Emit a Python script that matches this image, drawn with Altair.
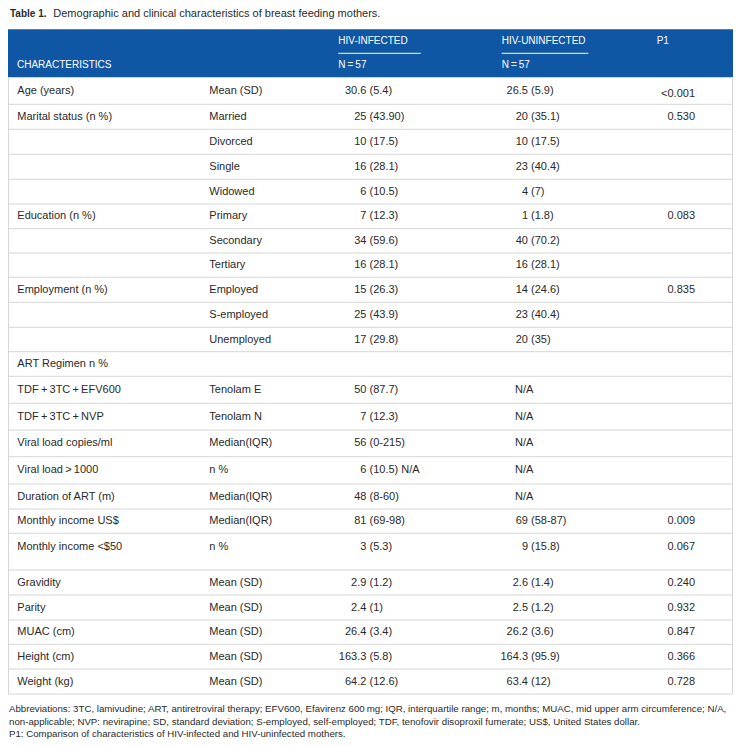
import altair as alt
import pandas as pd
import numpy as np

# ---------------- data ----------------
characteristics = ["Age (years)", "Marital status (n %)", "", "", "", "Education (n %)", "", "",
                   "Employment (n %)", "", "", "ART Regimen n %", "TDF\u2009+\u20093TC\u2009+\u2009EFV600",
                   "TDF\u2009+\u20093TC\u2009+\u2009NVP", "Viral load copies/ml", "Viral load\u2009>\u20091000",
                   "Duration of ART (m)", "Monthly income US$", "Monthly income <$50", "Gravidity", "Parity",
                   "MUAC (cm)", "Height (cm)", "Weight (kg)"]
measures = ["Mean (SD)", "Married", "Divorced", "Single", "Widowed", "Primary", "Secondary", "Tertiary",
            "Employed", "S-employed", "Unemployed", "", "Tenolam E", "Tenolam N", "Median(IQR)", "n %",
            "Median(IQR)", "Median(IQR)", "n %", "Mean (SD)", "Mean (SD)", "Mean (SD)", "Mean (SD)", "Mean (SD)"]
infected_value = ["30.6", "25", "10", "16", "6", "7", "34", "16", "15", "25", "17", "", "50", "7", "56", "6",
                  "48", "81", "3", "2.9", "2.4", "26.4", "163.3", "64.2"]
infected_paren = ["(5.4)", "(43.90)", "(17.5)", "(28.1)", "(10.5)", "(12.3)", "(59.6)", "(28.1)", "(26.3)",
                  "(43.9)", "(29.8)", "", "(87.7)", "(12.3)", "(0-215)", "(10.5) N/A", "(8-60)", "(69-98)",
                  "(5.3)", "(1.2)", "(1)", "(3.4)", "(5.8)", "(12.6)"]
uninfected_value = ["26.5", "20", "10", "23", "4", "1", "40", "16", "14", "23", "20", "", "N/A", "N/A", "N/A",
                    "N/A", "N/A", "69", "9", "2.6", "2.5", "26.2", "164.3", "63.4"]
uninfected_paren = ["(5.9)", "(35.1)", "(17.5)", "(40.4)", "(7)", "(1.8)", "(70.2)", "(28.1)", "(24.6)",
                    "(40.4)", "(35)", "", "", "", "", "", "", "(58-87)", "(15.8)", "(1.4)", "(1.2)", "(3.6)",
                    "(95.9)", "(12)"]
p_values = ["<0.001", "0.530", "", "", "", "0.083", "", "", "0.835", "", "", "", "", "", "", "", "",
            "0.009", "0.067", "0.240", "0.932", "0.847", "0.366", "0.728"]

header_labels = ["CHARACTERISTICS", "HIV-INFECTED", "HIV-UNINFECTED", "P1"]
n_labels = ["N\u2009=\u200957", "N\u2009=\u200957"]
title_bold = "Table 1."
title_text = "Demographic and clinical characteristics of breast feeding mothers."
footnotes = [
    "Abbreviations: 3TC, lamivudine; ART, antiretroviral therapy; EFV600, Efavirenz 600\u2009mg; IQR, interquartile range; m, months; MUAC, mid upper arm circumference; N/A,",
    "non-applicable; NVP: nevirapine; SD, standard deviation; S-employed, self-employed; TDF, tenofovir disoproxil fumerate; US$, United States dollar.",
    "P1: Comparison of characteristics of HIV-infected and HIV-uninfected mothers.",
]

# ---------------- layout ----------------
W, H = 725, 731
row_heights = [27, 25, 25, 25, 24.7, 24.7, 24.3, 24.3, 25, 25, 24.4, 24.6, 27, 26.7, 26.7, 27.3, 25, 24.3,
               36.7, 25, 25, 24.3, 24.7, 25]
header_top, header_bottom = 21.3, 69.3
bottoms = header_bottom + np.cumsum(row_heights)
tops = bottoms - np.array(row_heights)
table_bottom = float(bottoms[-1])

df = pd.DataFrame({
    "char": characteristics, "sub": measures,
    "iv": infected_value, "ip": infected_paren,
    "uv": uninfected_value, "up": uninfected_paren,
    "p": p_values,
    "top": tops, "bottom": bottoms,
    "ty": tops + np.minimum(np.array(row_heights) / 2, 13.5),
})

FONT = "Liberation Sans"
TXT = "#2a2a2a"
GRID = "#d6d6d6"
BLUE = "#0f57a5"
yscale = alt.Scale(domain=[0, H], range=[0, H])
xscale = alt.Scale(domain=[0, W], range=[0, W])

base = alt.Chart(df)


def col_text(field, x, align="left", filt=None, dy=0):
    c = base.mark_text(align=align, baseline="middle", font=FONT, fontSize=11, color=TXT, dy=dy)
    if filt is not None:
        c = c.transform_filter(filt)
    return c.encode(x=alt.value(x), y=alt.Y("ty:Q", scale=yscale, axis=None), text=f"{field}:N")


body = [
    col_text("char", 9.3),
    col_text("sub", 201.3),
    col_text("iv", 358.4, "right"),
    col_text("ip", 361.5),
    col_text("uv", 520, "right", "datum.uv != 'N/A'"),
    col_text("up", 523),
    col_text("uv", 507, "left", "datum.uv == 'N/A'"),
    col_text("p", 687, "right", "datum.p != '<0.001'"),
    col_text("p", 687, "right", "datum.p == '<0.001'", dy=3),
]

separators = base.mark_rule(color=GRID, strokeWidth=1).encode(
    y=alt.Y("bottom:Q", scale=yscale, axis=None), x=alt.value(0), x2=alt.value(724.5))

one = pd.DataFrame({"a": [0]})
header_rect = alt.Chart(one).mark_rect(color=BLUE).encode(
    x=alt.value(0), x2=alt.value(725), y=alt.value(header_top), y2=alt.value(header_bottom))

left_border = alt.Chart(one).mark_rule(color=GRID).encode(
    x=alt.value(0.5), y=alt.value(header_bottom), y2=alt.value(table_bottom))
right_border = alt.Chart(one).mark_rule(color=GRID).encode(
    x=alt.value(724.5), y=alt.value(header_bottom), y2=alt.value(table_bottom))

hdr = pd.DataFrame({"label": header_labels, "hx": [9, 330.3, 493.7, 648.7], "hy": [57, 33, 33, 33]})
header_text = alt.Chart(hdr).mark_text(align="left", baseline="middle", font=FONT, fontSize=10,
                                       color="white").encode(
    x=alt.X("hx:Q", scale=xscale, axis=None),
    y=alt.Y("hy:Q", scale=yscale, axis=None), text="label:N")

nd = pd.DataFrame({"label": n_labels, "hx": [330.3, 493.7], "hy": [57, 57]})
n_text = alt.Chart(nd).mark_text(align="left", baseline="middle", font=FONT, fontSize=10,
                                 color="white").encode(
    x=alt.X("hx:Q", scale=xscale, axis=None),
    y=alt.Y("hy:Q", scale=yscale, axis=None), text="label:N")

ul = pd.DataFrame({"x1": [330.3, 493.7], "x2": [412.7, 580.3], "uy": [45.3, 45.3]})
underlines = alt.Chart(ul).mark_rule(color="white", strokeWidth=1).encode(
    x=alt.X("x1:Q", scale=xscale, axis=None), x2="x2:Q",
    y=alt.Y("uy:Q", scale=yscale, axis=None))

title1 = alt.Chart(pd.DataFrame({"t": [title_bold]})).mark_text(
    align="left", baseline="middle", font=FONT, fontSize=10, fontWeight="bold", color=TXT).encode(
    x=alt.value(2), y=alt.value(5.5), text="t:N")
title2 = alt.Chart(pd.DataFrame({"t": [title_text]})).mark_text(
    align="left", baseline="middle", font=FONT, fontSize=11, color=TXT).encode(
    x=alt.value(45.3), y=alt.value(5.5), text="t:N")

fn = pd.DataFrame({"t": footnotes, "fy": [701, 713.5, 726]})
foot = alt.Chart(fn).mark_text(align="left", baseline="middle", font=FONT, fontSize=9.7, color=TXT).encode(
    x=alt.value(1), y=alt.Y("fy:Q", scale=yscale, axis=None), text="t:N")

chart = alt.layer(
    header_rect, separators, left_border, right_border, underlines,
    header_text, n_text, *body, title1, title2, foot
).resolve_scale(x="shared", y="shared").properties(
    width=W, height=H, padding=0, autosize=alt.AutoSizeParams(type="none")
).configure_view(stroke=None)

chart.save("out.html", embed_options={"renderer": "svg", "actions": False})
